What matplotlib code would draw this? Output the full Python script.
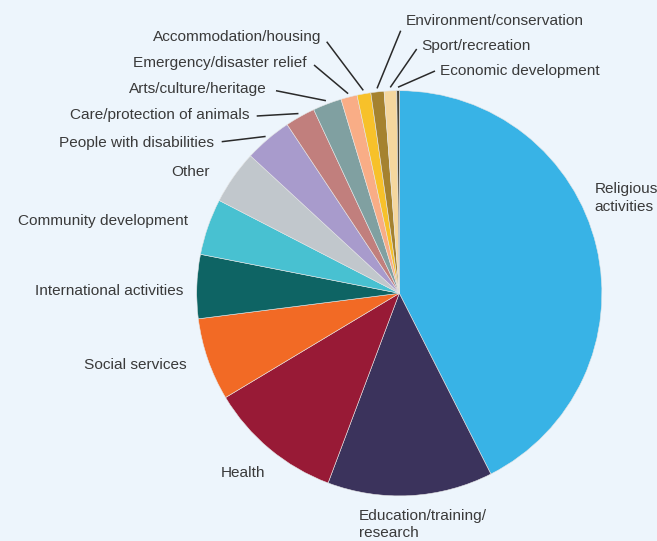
import matplotlib
matplotlib.use("Agg")
import matplotlib.pyplot as plt
import numpy as np

categories = ["Religious\nactivities", "Education/training/\nresearch", "Health",
              "Social services", "International activities", "Community development",
              "Other", "People with disabilities", "Care/protection of animals",
              "Arts/culture/heritage", "Emergency/disaster relief", "Accommodation/housing",
              "Environment/conservation", "Sport/recreation", "Economic development"]
values = [42.6, 13.2, 10.7, 6.6, 5.1, 4.5, 4.3, 3.8, 2.4, 2.3, 1.3, 1.1, 1.05, 1.0, 0.2]
colors = ["#38B3E6", "#3B335C", "#981A36", "#F26A25", "#0E6464", "#48C1D1",
          "#C1C7CC", "#A89BCC", "#C17F7D", "#80A0A1", "#F9AD86", "#F7C12A",
          "#A5822F", "#F5D79E", "#4A4537"]

W, H = 657, 541
BG = "#EDF5FC"
TXT = "#3a3a3a"
plt.rcParams['font.family'] = ['Liberation Sans', 'DejaVu Sans']

fig = plt.figure(figsize=(W / 100, H / 100), dpi=100, facecolor=BG)
ax = fig.add_axes([0, 0, 1, 1])
ax.set_facecolor(BG)
ax.set_xlim(0, W)
ax.set_ylim(0, H)
ax.set_aspect('equal')
ax.axis('off')

cx, cy, R = 399.3, H - 293.3, 202.6
wedges, _ = ax.pie(values, colors=colors, startangle=90, counterclock=False,
                   center=(cx, cy), radius=R,
                   wedgeprops=dict(linewidth=0.4, edgecolor="#e6e6e6"))
ax.set_xlim(0, W)
ax.set_ylim(0, H)

# label layout (pixel coords from top-left): (x, y, ha, line_end or None)
layout = [
    (594.5, 198, 'left', None),
    (359, 524.5, 'left', None),
    (221, 472.7, 'left', None),
    (187, 365, 'right', None),
    (183, 290.7, 'right', None),
    (188, 220.7, 'right', None),
    (210, 171.7, 'right', None),
    (214.3, 143.3, 'right', (221.7, 141.7)),
    (249.3, 115, 'right', (256.7, 116)),
    (266.7, 89, 'right', (276, 90.7)),
    (307, 62.7, 'right', (314, 65)),
    (321, 36.7, 'right', (326.7, 41.7)),
    (406, 21, 'left', (400.7, 30.7)),
    (421, 46, 'left', (416.7, 49)),
    (440, 71, 'left', (435, 71)),
]

for w, lab, (x, y, ha, le) in zip(wedges, categories, layout):
    ax.text(x, H - y, lab, ha=ha, va='center', fontsize=11.1, color=TXT,
            linespacing=1.32)
    if le is not None:
        mid = np.deg2rad((w.theta1 + w.theta2) / 2)
        px = cx + (R + 3.5) * np.cos(mid)
        py = cy + (R + 3.5) * np.sin(mid)
        ax.plot([le[0], px], [H - le[1], py], color="#2a2a2a", lw=1.1,
                solid_capstyle='butt')

fig.savefig("out.png", dpi=100, facecolor=BG)
